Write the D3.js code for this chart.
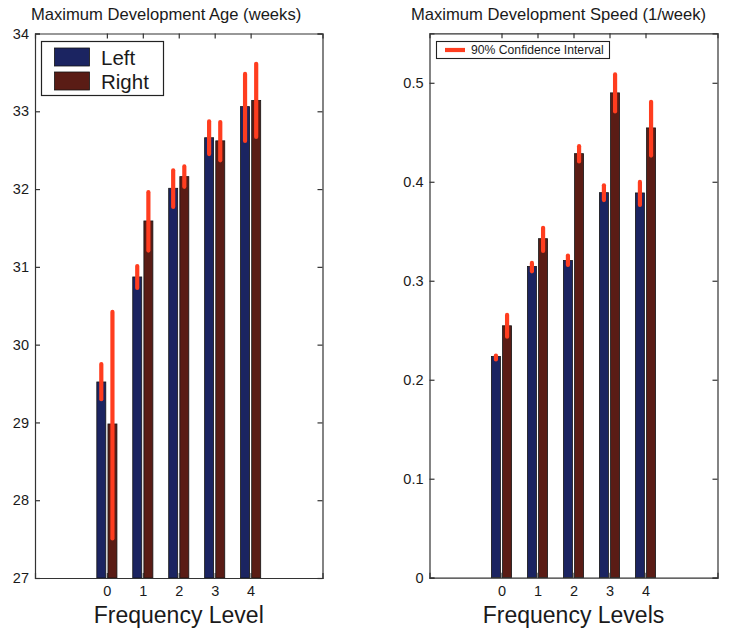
<!DOCTYPE html>
<html lang="en">
	<head>
		<meta charset="utf-8">
		<title>Maximum development age and speed</title>
		<script src="https://d3js.org/d3.v7.min.js"></script>
		<style type="text/css">
body { margin: 0; background: #fff; }
text { font-family: "Liberation Sans", Arial, sans-serif; fill: #1a1a1a; }
.axis path, .axis line { stroke: #333; stroke-width: 1.2; }
.axis text { font-size: 14.5px; fill: #1a1a1a; }
		</style>
	</head>
	<body>
<div id="chart"></div>
		<script type="text/javascript">
// Data
var levels = [0, 1, 2, 3, 4];

var ageLeft    = [29.52, 30.87, 32.01, 32.66, 33.06];
var ageLeftLo  = [29.28, 30.71, 31.75, 32.43, 32.60];
var ageLeftHi  = [29.77, 31.03, 32.26, 32.89, 33.50];
var ageRight   = [28.98, 31.59, 32.16, 32.62, 33.14];
var ageRightLo = [27.49, 31.19, 32.01, 32.35, 32.65];
var ageRightHi = [30.44, 31.98, 32.31, 32.88, 33.63];

var speedLeft    = [0.2235, 0.3145, 0.3205, 0.389, 0.3887];
var speedLeftLo  = [0.219, 0.308, 0.3145, 0.380, 0.375];
var speedLeftHi  = [0.226, 0.3195, 0.327, 0.398, 0.4014];
var speedRight   = [0.2545, 0.3425, 0.4284, 0.4898, 0.4544];
var speedRightLo = [0.242, 0.3286, 0.419, 0.4696, 0.425];
var speedRightHi = [0.267, 0.355, 0.4375, 0.510, 0.4823];

var ageTicks = [27, 28, 29, 30, 31, 32, 33, 34];
var speedTicks = [0, 0.1, 0.2, 0.3, 0.4, 0.5];
var seriesNames = ["Left", "Right"];

//Width and height
var w = 738;
var h = 632;
var leftColor = "#1b2461";
var rightColor = "#5a1c15";
var ciColor = "#ff3d1f";

var svg = d3.select("div#chart")
			.append("svg")
			.attr("width", w)
			.attr("height", h);

function drawPanel(p) {
	var xScale = d3.scaleLinear()
					 .domain([-2, 6])
					 .range([p.x0, p.x1]);
	var yScale = d3.scaleLinear()
					 .domain(p.yDomain)
					 .range([p.y1, p.y0]);

	var g = svg.append("g");

	var series = [
		{vals: p.left, lo: p.leftLo, hi: p.leftHi, off: -0.155, color: leftColor},
		{vals: p.right, lo: p.rightLo, hi: p.rightHi, off: 0.155, color: rightColor}
	];

	series.forEach(function (s) {
		var barW = xScale(0.25) - xScale(0);
		g.selectAll(null)
			.data(levels)
			.enter()
			.append("rect")
			.attr("x", (d, i) => xScale(d + s.off) - barW / 2)
			.attr("y", (d, i) => yScale(s.vals[i]))
			.attr("width", barW)
			.attr("height", (d, i) => yScale(p.yDomain[0]) - yScale(s.vals[i]))
			.attr("fill", s.color)
			.attr("stroke", "#151515")
			.attr("stroke-width", 0.8);
	});

	series.forEach(function (s) {
		g.selectAll(null)
			.data(levels)
			.enter()
			.append("line")
			.attr("x1", d => xScale(d + s.off))
			.attr("x2", d => xScale(d + s.off))
			.attr("y1", (d, i) => yScale(s.lo[i]) - 1.5)
			.attr("y2", (d, i) => yScale(s.hi[i]) + 1.5)
			.attr("stroke", ciColor)
			.attr("stroke-width", 4.2)
			.attr("stroke-linecap", "round");
	});

	// axes with inward ticks, MATLAB style
	g.append("g")
		.attr("class", "axis")
		.attr("transform", "translate(" + p.x0 + ",0)")
		.call(d3.axisLeft(yScale).tickValues(p.yTicks).tickSize(-5).tickPadding(6).tickFormat(p.fmt));
	g.append("g")
		.attr("class", "axis")
		.attr("transform", "translate(" + p.x1 + ",0)")
		.call(d3.axisRight(yScale).tickValues(p.yTicks).tickSize(-5).tickFormat(""));
	g.append("g")
		.attr("class", "axis")
		.attr("transform", "translate(0," + p.y1 + ")")
		.call(d3.axisBottom(xScale).tickValues(levels).tickSize(-5).tickPadding(8));
	g.append("g")
		.attr("class", "axis")
		.attr("transform", "translate(0," + p.y0 + ")")
		.call(d3.axisTop(xScale).tickValues(levels).tickSize(-5).tickFormat(""));

	g.append("text")
		.attr("x", p.titleX)
		.attr("y", 20)
		.style("font-size", "16.6px")
		.text(p.title);

	g.append("text")
		.attr("x", xScale(2))
		.attr("y", 623)
		.attr("text-anchor", "middle")
		.style("font-size", "23px")
		.text(p.xLabel);

	return {g: g, x: xScale, y: yScale};
}

var ageP = drawPanel({
	x0: 35, x1: 322.5, y0: 33.5, y1: 578,
	yDomain: [27, 34], yTicks: ageTicks, fmt: d3.format("d"),
	left: ageLeft, leftLo: ageLeftLo, leftHi: ageLeftHi,
	right: ageRight, rightLo: ageRightLo, rightHi: ageRightHi,
	title: "Maximum Development Age (weeks)", titleX: 31,
	xLabel: "Frequency Level"
});

var speedP = drawPanel({
	x0: 429.5, x1: 717.5, y0: 33.3, y1: 577.7,
	yDomain: [0, 0.55], yTicks: speedTicks, fmt: d => d === 0 ? "0" : d3.format(".1f")(d),
	left: speedLeft, leftLo: speedLeftLo, leftHi: speedLeftHi,
	right: speedRight, rightLo: speedRightLo, rightHi: speedRightHi,
	title: "Maximum Development Speed (1/week)", titleX: 411,
	xLabel: "Frequency Levels"
});

// Legend for left panel
var lg = ageP.g.append("g");
lg.append("rect")
	.attr("x", 41.5).attr("y", 41.5)
	.attr("width", 122).attr("height", 54)
	.attr("fill", "#fff").attr("stroke", "#222").attr("stroke-width", 1.2);
[leftColor, rightColor].forEach(function (c, i) {
	lg.append("rect")
		.attr("x", 54.5).attr("y", 48 + i * 24)
		.attr("width", 35).attr("height", 18)
		.attr("fill", c).attr("stroke", "#151515").attr("stroke-width", 0.8);
	lg.append("text")
		.attr("x", 101)
		.attr("y", 64.5 + i * 24)
		.style("font-size", "20.5px")
		.text(seriesNames[i]);
});

// Legend for right panel
var rg = speedP.g.append("g");
rg.append("rect")
	.attr("x", 436.5).attr("y", 41.5)
	.attr("width", 173).attr("height", 17)
	.attr("fill", "#fff").attr("stroke", "#222").attr("stroke-width", 1.1);
rg.append("line")
	.attr("x1", 445).attr("x2", 465)
	.attr("y1", 50).attr("y2", 50)
	.attr("stroke", ciColor).attr("stroke-width", 4.2);
rg.append("text")
	.attr("x", 471)
	.attr("y", 54.3)
	.style("font-size", "12.2px")
	.text("90% Confidence Interval");

		</script>
	</body>
</html>
